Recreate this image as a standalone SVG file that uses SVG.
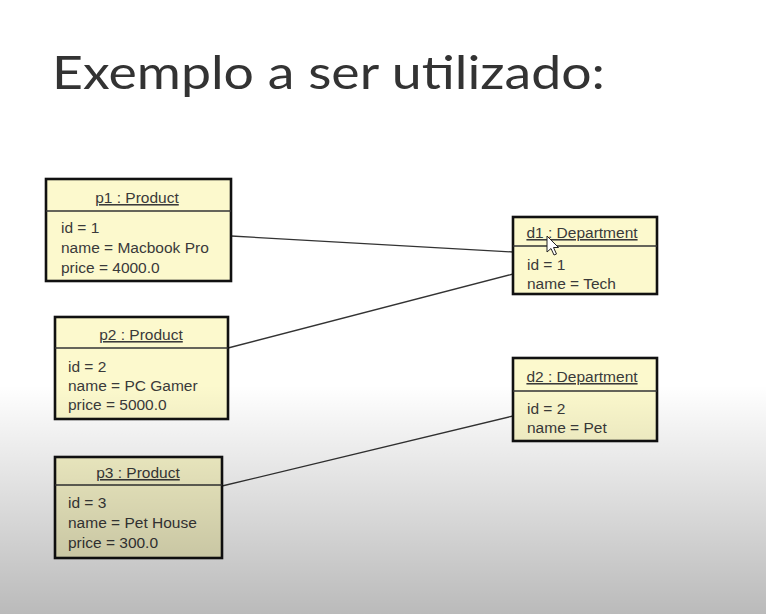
<svg xmlns="http://www.w3.org/2000/svg" width="766" height="614" viewBox="0 0 766 614">
  <defs>
    <linearGradient id="shade" x1="0" y1="0" x2="0" y2="1">
      <stop offset="0" stop-color="#000" stop-opacity="0"/>
      <stop offset="1" stop-color="#000" stop-opacity="0.27"/>
    </linearGradient>
    <style>
      .box { fill: #fcf9cd; stroke: #111; stroke-width: 2.6; }
      .div { stroke: #333; stroke-width: 1.3; }
      .ttl { font-family: "Liberation Sans", Arial, sans-serif; font-size: 15.5px; fill: #3a3a3a; text-anchor: middle; text-decoration: underline; }
      .att { font-family: "Liberation Sans", Arial, sans-serif; font-size: 15.5px; fill: #3a3a3a; }
      .link { stroke: #333; stroke-width: 1.3; fill: none; }
      .heading { font-family: Lato, "Open Sans", "Liberation Sans", sans-serif; font-weight: 400; font-size: 47px; fill: #333; }
    </style>
  </defs>

  <rect width="766" height="614" fill="#ffffff"/>

  <text class="heading" x="52" y="89" textLength="553" lengthAdjust="spacingAndGlyphs">Exemplo a ser utilizado:</text>

  <!-- links between objects -->
  <g id="connectors">
    <line class="link" x1="231" y1="236" x2="513" y2="252"/>
    <line class="link" x1="228" y1="348" x2="513" y2="274"/>
    <line class="link" x1="222" y1="486" x2="513" y2="416"/>
  </g>

  <g id="p1">
    <rect class="box" x="46" y="179" width="185" height="102"/>
    <line class="div" x1="46" y1="211" x2="231" y2="211"/>
    <text class="ttl" x="137" y="203">p1 : Product</text>
    <text class="att" x="61" y="233">id = 1</text>
    <text class="att" x="61" y="253">name = Macbook Pro</text>
    <text class="att" x="61" y="273">price = 4000.0</text>
  </g>

  <g id="p2">
    <rect class="box" x="55" y="317" width="173" height="102"/>
    <line class="div" x1="55" y1="348" x2="228" y2="348"/>
    <text class="ttl" x="141" y="340">p2 : Product</text>
    <text class="att" x="68" y="372">id = 2</text>
    <text class="att" x="68" y="391">name = PC Gamer</text>
    <text class="att" x="68" y="410">price = 5000.0</text>
  </g>

  <g id="p3">
    <rect class="box" x="55" y="457" width="167" height="101"/>
    <line class="div" x1="55" y1="485" x2="222" y2="485"/>
    <text class="ttl" x="138" y="478">p3 : Product</text>
    <text class="att" x="68" y="508">id = 3</text>
    <text class="att" x="68" y="528">name = Pet House</text>
    <text class="att" x="68" y="548">price = 300.0</text>
  </g>

  <g id="d1">
    <rect class="box" x="513" y="217" width="144" height="77"/>
    <line class="div" x1="513" y1="246" x2="657" y2="246"/>
    <text class="ttl" x="582" y="238">d1 : Department</text>
    <text class="att" x="527" y="270">id = 1</text>
    <text class="att" x="527" y="289">name = Tech</text>
  </g>

  <g id="d2">
    <rect class="box" x="513" y="358" width="144" height="83"/>
    <line class="div" x1="513" y1="391" x2="657" y2="391"/>
    <text class="ttl" x="582" y="382">d2 : Department</text>
    <text class="att" x="527" y="414">id = 2</text>
    <text class="att" x="527" y="433">name = Pet</text>
  </g>

  <!-- mouse pointer -->
  <path d="M547 236 L547 252 L551 248.5 L554 255 L556.5 254 L553.5 247.5 L558.5 247.5 Z" fill="#fff" stroke="#222" stroke-width="1"/>

  <!-- lower shading -->
  <rect x="0" y="385" width="766" height="229" fill="url(#shade)"/>
</svg>
